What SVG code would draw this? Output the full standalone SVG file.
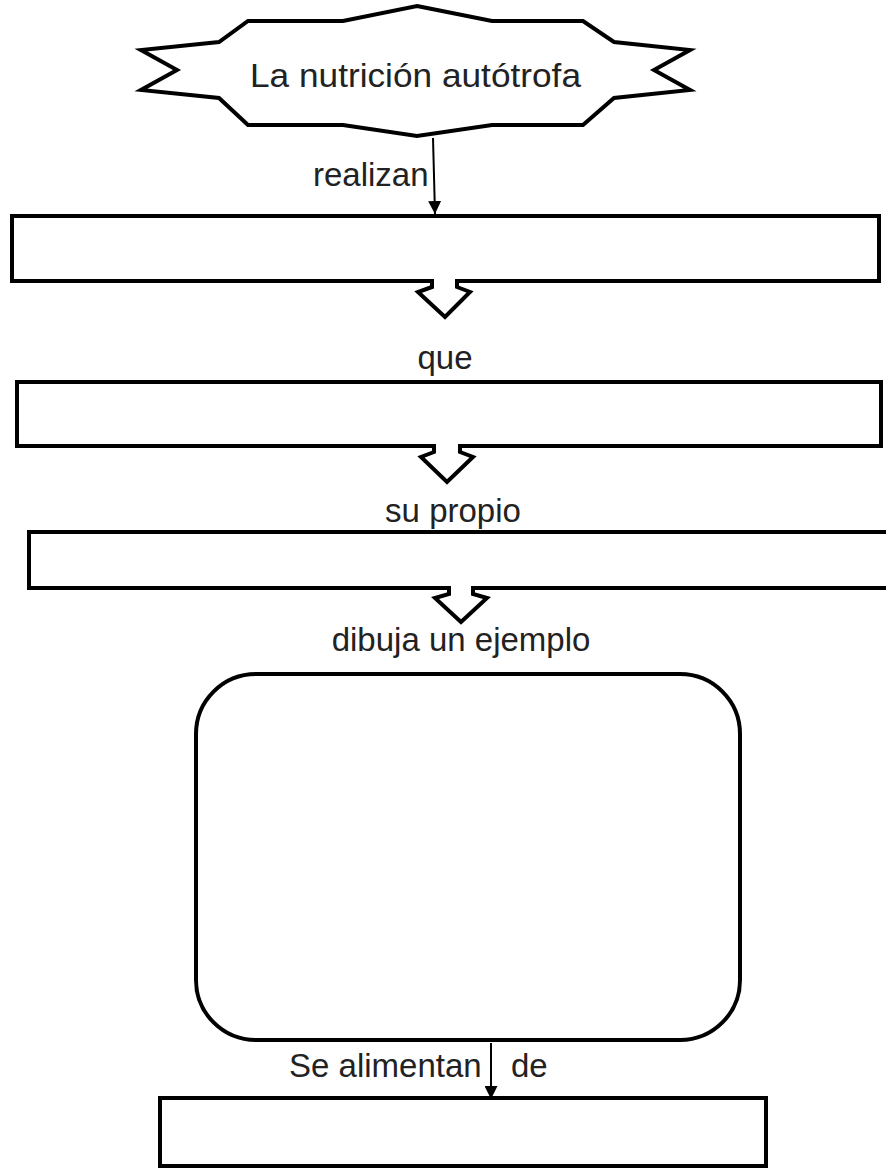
<svg xmlns="http://www.w3.org/2000/svg" width="886" height="1169" viewBox="0 0 886 1169">
<style>
.shape{fill:#fff;stroke:#000;stroke-width:4;stroke-linejoin:miter}
.lbl{font-family:"Liberation Sans",Arial,sans-serif;font-size:33px;fill:#222}
.conn{stroke:#000;stroke-width:2;fill:none}
</style>
<defs>
<marker id="ah" markerUnits="userSpaceOnUse" markerWidth="14" markerHeight="13" refX="13" refY="6.5" orient="auto">
<path d="M0,0 L13,6.5 L0,13 Z" fill="#000"/>
</marker>
</defs>
<rect width="886" height="1169" fill="#fff"/>
<g id="star">
<path class="shape" d="M417,6 L492,21 L583,21 L614,42 L690,50 L654,70 L690,90 L614,98 L583,125 L492,125 L417,136 L343,125 L248,125 L219,98 L141,90 L177,70 L141,50 L219,42 L248,21 L343,21 Z"/>
<text class="lbl" x="250" y="87" textLength="331" lengthAdjust="spacingAndGlyphs">La nutrición autótrofa</text>
</g>
<g id="box1">
<path class="shape" d="M12,216 H879 V281 H457 V287 L470,292 L445,317 L418,292 L432,287 V281 H12 Z"/>
</g>
<g id="box2">
<path class="shape" d="M17,382 H881 V446 H460 V452 L473,457 L447,482 L421,457 L434,452 V446 H17 Z"/>
</g>
<g id="box3">
<path class="shape" d="M29,532 H900 V588 H473 V594 L487,598 L461,622 L435,598 L449,594 V588 H29 Z"/>
</g>
<g id="example">
<rect class="shape" x="196" y="674" width="544" height="366" rx="60" ry="60"/>
</g>
<g id="box4">
<rect class="shape" x="160" y="1098" width="606" height="68"/>
</g>
<g id="connectors">
<line class="conn" x1="433" y1="138" x2="435" y2="214" marker-end="url(#ah)"/>
<line class="conn" x1="491" y1="1043" x2="491" y2="1099" marker-end="url(#ah)"/>
</g>
<g id="labels">
<text class="lbl" x="313" y="186">realizan</text>
<text class="lbl" x="445" y="369" text-anchor="middle">que</text>
<text class="lbl" x="453" y="522" text-anchor="middle">su propio</text>
<text class="lbl" x="461" y="651" text-anchor="middle">dibuja un ejemplo</text>
<text class="lbl" x="289" y="1077">Se alimentan</text>
<text class="lbl" x="511" y="1077">de</text>
</g>
</svg>
